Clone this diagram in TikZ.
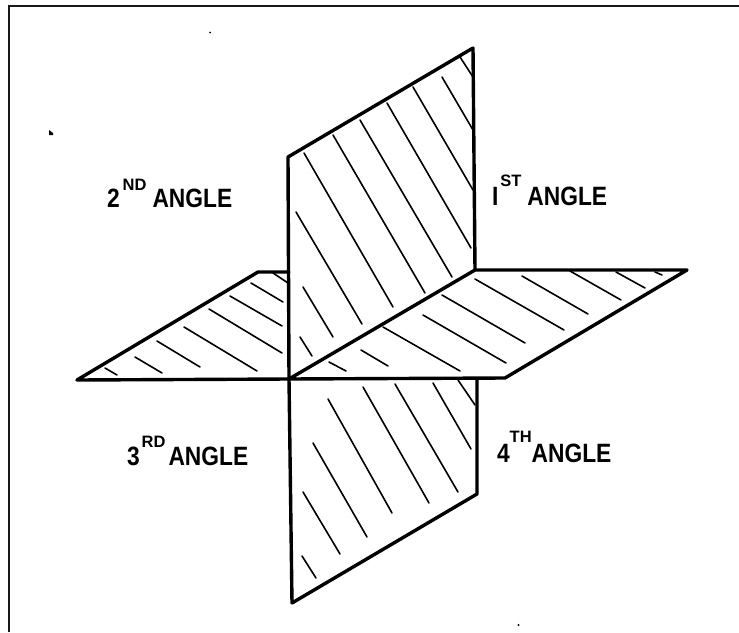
\documentclass[tikz,border=0pt]{standalone}
\usepackage{fontspec}
\setmainfont{Liberation Sans}
\newcommand{\anglab}[5]{\bfseries\scalebox{.86}[1]{\fontsize{26.5}{26.5}\selectfont #1}\kern#3pt\raisebox{#5pt}{\fontsize{16.5}{16.5}\selectfont #2}\kern#4pt\scalebox{.86}[1]{\fontsize{26.5}{26.5}\selectfont ANGLE}}
\tikzset{
  plane/.style={line width=3.4pt,line join=round,line cap=round,black},
  hatch/.style={line width=1.6pt,line cap=round,black},
  framing/.style={line width=2pt,black!90},
  lab/.style={inner sep=0pt,outer sep=0pt,anchor=base west,text=black},
  speck/.style={fill=black,draw=none}
}
\begin{document}
\begin{tikzpicture}[x=1pt,y=-1pt]
\useasboundingbox (0,0) rectangle (739,632);
\fill[white] (0,0) rectangle (739,632);
% frame
\draw[framing] (9,632) -- (9,6) -- (739,6);
% vertices
\coordinate (O) at (289,379);
\coordinate (UL) at (288,157);
\coordinate (UR) at (473,48);
\coordinate (UB) at (475,270);
\coordinate (RT) at (687,270);
\coordinate (RB) at (505,378);
\coordinate (LT) at (77,380);
\coordinate (LU) at (258,272);
\coordinate (LV) at (289,272);
\coordinate (DL) at (292,603);
\coordinate (DR) at (477,494);
\coordinate (DT) at (477,379);
% hatching, upper plane
\foreach \a/\b/\c/\d in {473/77/460/57,473/130/442/77,473/190/413/87,471/248/387/103,452/277/360/120,425/293/333/135,393/307/304/153,362/324/296/212,333/337/303/287,312/356/300/337}
  \draw[hatch] (\a,\b) -- (\c,\d);
% hatching, left triangle
\foreach \a/\b/\c/\d in {273/273/288/283,251/283/283/302,230/296/282/326,209/309/282/353,184/327/257/371,157/341/200/367,135/357/162/373,105/368/117/375}
  \draw[hatch] (\a,\b) -- (\c,\d);
% hatching, right horizontal plane
\foreach \a/\b/\c/\d in {655/272/662/275,616/272/645/288,570/271/621/300,522/276/588/314,475/279/564/330,442/295/525/343,423/315/506/363,383/327/460/371,361/350/388/366,329/362/346/371}
  \draw[hatch] (\a,\b) -- (\c,\d);
% hatching, lower plane
\foreach \a/\b/\c/\d in {458/380/475/405,433/383/471/449,395/384/458/492,363/387/429/503,328/399/392/513,313/443/367/537,303/492/340/554,302/556/316/578}
  \draw[hatch] (\a,\b) -- (\c,\d);
% outlines
\draw[plane] (O) -- (UL) -- (UR) -- (UB);
\draw[plane] (O) -- (UB) -- (RT) -- (RB) -- cycle;
\draw[plane] (O) -- (LT) -- (LU) -- (LV);
\draw[plane] (O) -- (DL) -- (DR) -- (DT);
% labels
\node[lab] (second) at (107,207) {\anglab{2}{ND}{3}{6}{17}};
\node[lab] (first)  at (492,205) {\anglab{I}{ST}{2}{6}{19}};
\node[lab] (third)  at (127,465) {\anglab{3}{RD}{2}{3}{18}};
\node[lab] (fourth) at (497,462) {\anglab{4}{TH}{0}{0}{20}};
% specks
\fill[speck] (49,130) -- (53,133) -- (53,135) -- (49,135) -- cycle;
\fill[speck] (210,32.5) circle (1);
\fill[speck] (518.5,625) circle (1.2);
\end{tikzpicture}
\end{document}
